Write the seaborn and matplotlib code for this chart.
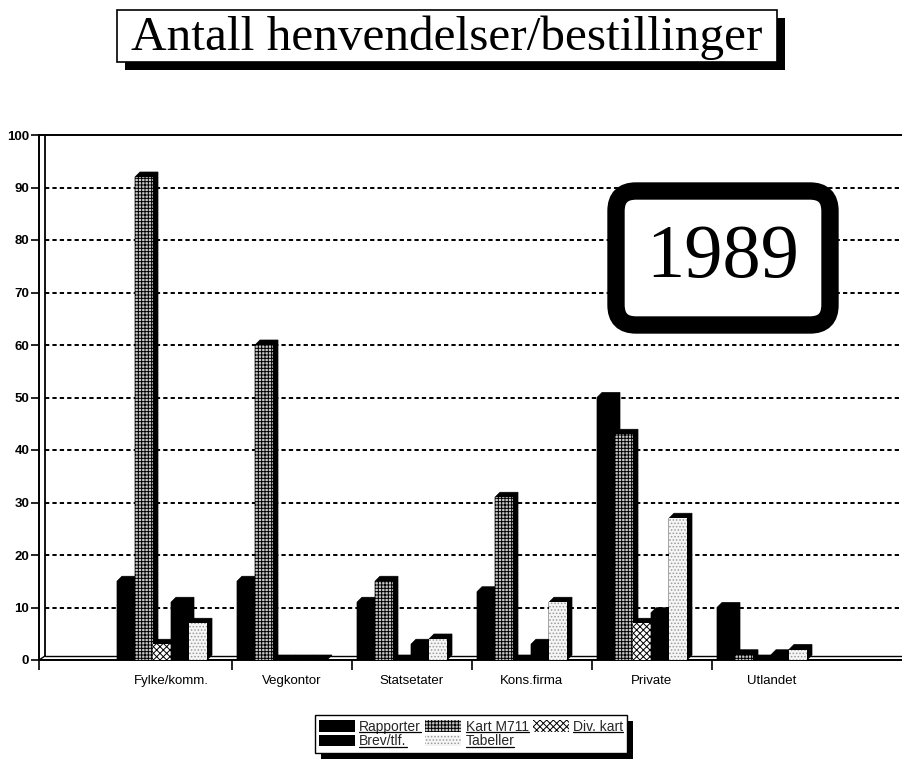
import numpy as np
import pandas as pd
import seaborn as sns
import matplotlib
matplotlib.use("Agg")
import matplotlib.pyplot as plt
from matplotlib.patches import Polygon, Rectangle, FancyBboxPatch, Patch
from matplotlib.transforms import IdentityTransform
from matplotlib.lines import Line2D

# ---------------- data ----------------
categories = ["Fylke/komm.", "Vegkontor", "Statsetater", "Kons.firma", "Private", "Utlandet"]
series = ["Rapporter", "Kart M711", "Div. kart", "Brev/tlf.", "Tabeller"]
rapporter = [15, 15, 11, 13, 50, 10]
kart_m711 = [92, 60, 15, 31, 43, 1]
div_kart = [3, 0, 0, 0, 7, 0]
brev_tlf = [11, 0, 3, 3, 9, 1]
tabeller = [7, 0, 4, 11, 27, 2]
y_ticks = [0, 10, 20, 30, 40, 50, 60, 70, 80, 90, 100]
title_text = "Antall henvendelser/bestillinger"
year_text = "1989"

values = [rapporter, kart_m711, div_kart, brev_tlf, tabeller]
df = pd.concat(
    [pd.DataFrame({"Kategori": categories, "Serie": s, "Antall": v}) for s, v in zip(series, values)],
    ignore_index=True,
)

# ---------------- styles ----------------
styles = [
    dict(fc="black", ec="black", hatch=None),
    dict(fc="#c8c8c8", ec="black", hatch="+++++"),
    dict(fc="white", ec="black", hatch="xxxxx"),
    dict(fc="black", ec="black", hatch=None),
    dict(fc="#f6f6f6", ec="#9a9a9a", hatch="....."),
]

W, H, DPI = 902, 761, 100
sns.set_theme(style="white")
plt.rcParams["font.family"] = ["Liberation Sans", "DejaVu Sans"]
plt.rcParams["hatch.linewidth"] = 0.7

fig = plt.figure(figsize=(W / DPI, H / DPI), dpi=DPI)
fig.patch.set_facecolor("white")

left_px, right_px, top_px, bot_px = 39, 902, 135, 660
ax = fig.add_axes([left_px / W, 1 - bot_px / H, (right_px - left_px) / W, (bot_px - top_px) / H])

center0 = 162.0
unit = 120.0
xlim = ((left_px - center0) / unit, (right_px - center0) / unit)

sns.barplot(
    data=df, x="Kategori", y="Antall", hue="Serie", order=categories, hue_order=series,
    palette=[s["fc"] for s in styles], saturation=1, width=0.75, dodge=True,
    legend=False, linewidth=0, ax=ax, errorbar=None,
)

px_x = 1.0 / unit
px_y = 100.0 / (bot_px - top_px)
dx, dy = 5 * px_x, 5 * px_y

for cont in ax.containers:
    for bar in cont:
        x0, w, h = bar.get_x(), bar.get_width(), bar.get_height()
        xc = x0 + w / 2
        idx = int(round((xc - round(xc) + 0.3) / 0.15))
        idx = max(0, min(4, idx))
        st = styles[idx]
        bar.set_facecolor(st["fc"])
        bar.set_edgecolor(st["ec"])
        bar.set_hatch(st["hatch"])
        bar.set_linewidth(0)
        bar.set_zorder(4 + 2 * idx)
        x1 = x0 + w
        poly = Polygon(
            [(x0, 0), (x0, h), (x0 + dx, h + dy), (x1 + dx, h + dy), (x1 + dx, dy), (x1, 0)],
            closed=True, facecolor="black", edgecolor="black", linewidth=0.5, zorder=3 + 2 * idx,
        )
        ax.add_patch(poly)

ax.set_xlim(*xlim)
ax.set_ylim(0, 100)

# back wall / floor
x_inner = xlim[0] + 6 * px_x
for v in y_ticks[1:-1]:
    ax.plot([x_inner, xlim[1]], [v, v], color="black", lw=1.4, ls=(0, (2.2, 1.6)), zorder=1)
ax.plot([x_inner, x_inner], [dy * 0.8, 100], color="black", lw=1.3, zorder=2)
ax.plot([xlim[0], x_inner], [0, dy * 0.8], color="black", lw=1.0, zorder=2)
ax.plot([x_inner, xlim[1]], [dy * 0.8, dy * 0.8], color="black", lw=1.0, zorder=2)
ax.axhline(0, color="black", lw=2.0, zorder=2)

ax.spines["right"].set_visible(False)
for side in ["left", "top", "bottom"]:
    ax.spines[side].set_visible(True)
    ax.spines[side].set_color("black")
    ax.spines[side].set_linewidth(1.4)

ax.set_yticks(y_ticks)
ax.set_yticklabels([str(v) for v in y_ticks])
ax.tick_params(axis="y", which="major", direction="out", length=6, width=1.2, pad=1,
               labelsize=9.5, left=True, colors="black")
for t in ax.get_yticklabels():
    t.set_fontweight("bold")

ax.set_xticks([i + 0.08 for i in range(len(categories))])
ax.set_xticklabels(categories)
ax.tick_params(axis="x", which="major", length=0, pad=11, labelsize=9.5, colors="black")
ax.set_xticks([xlim[0]] + [i + 0.583 for i in range(len(categories) - 1)], minor=True)
ax.tick_params(axis="x", which="minor", direction="out", length=7, width=1.2, bottom=True, colors="black")
ax.set_xlabel("")
ax.set_ylabel("")
ax.grid(False)

# ---------------- title box ----------------
ident = IdentityTransform()

def ry(y):
    return H - y

fig.add_artist(Rectangle((125, ry(70)), 660, 52, transform=ident, facecolor="black",
                         edgecolor="none", zorder=5))
fig.add_artist(Rectangle((117, ry(62)), 660, 52, transform=ident, facecolor="white",
                         edgecolor="black", linewidth=1.2, zorder=6))
fig.text(447, ry(38), title_text, transform=ident, ha="center", va="center",
         fontsize=35.5, family=["Liberation Serif", "DejaVu Serif"], color="black", zorder=7)

# ---------------- 1989 box ----------------
fig.add_artist(FancyBboxPatch((616, ry(325)), 214, 134, boxstyle="round,pad=0,rounding_size=20",
                              transform=ident, facecolor="white", edgecolor="black",
                              linewidth=12.5, zorder=6))
fig.text(723, ry(259), year_text, transform=ident, ha="center", va="center",
         fontsize=55, family=["Liberation Serif", "DejaVu Serif"], color="black", zorder=7)

# ---------------- legend ----------------
handles = [Patch(facecolor=st["fc"], edgecolor=st["ec"], hatch=st["hatch"], linewidth=0) for st in styles]
order = [0, 3, 1, 4, 2]
leg = fig.legend(
    [handles[i] for i in order], [series[i] for i in order], ncol=3,
    loc="center", bbox_to_anchor=(471 / W, 1 - 734 / H), frameon=True, fancybox=False,
    edgecolor="black", framealpha=1, fontsize=10, handlelength=2.6, handleheight=0.9,
    handletextpad=0.3, columnspacing=0.3, labelspacing=0.05, borderpad=0.3, borderaxespad=0,
)
leg.get_frame().set_linewidth(1.0)
leg.set_zorder(6)

fig.canvas.draw()
renderer = fig.canvas.get_renderer()
lb = leg.get_window_extent(renderer)
fig.add_artist(Rectangle((lb.x0 + 6, lb.y0 - 6), lb.width, lb.height, transform=ident,
                         facecolor="black", edgecolor="none", zorder=5))
for t in leg.get_texts():
    bb = t.get_window_extent(renderer)
    fig.add_artist(Line2D([bb.x0, bb.x1], [bb.y0 + 1.5, bb.y0 + 1.5], transform=ident,
                          color="black", lw=0.9, zorder=7))

fig.savefig("out.png", dpi=DPI)
